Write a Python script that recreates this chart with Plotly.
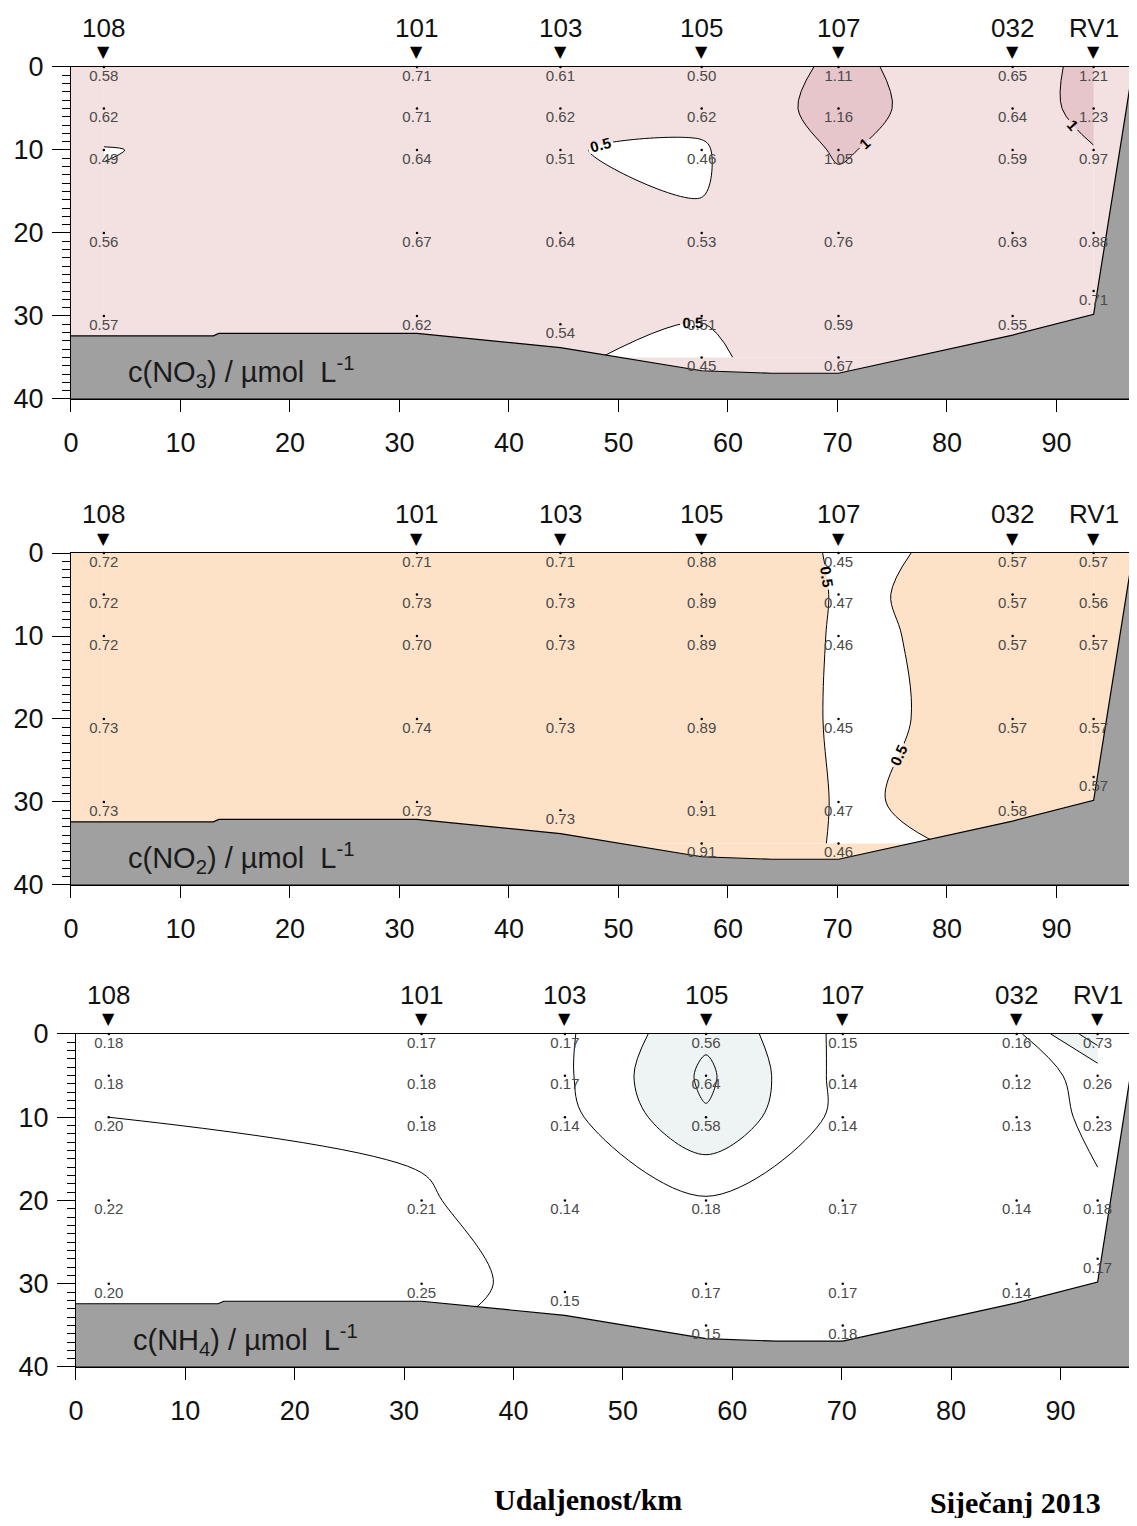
import plotly.graph_objects as go

# ---------------- data ----------------
STATIONS = ["108", "101", "103", "105", "107", "032", "RV1"]
STATION_KM = [3.0, 31.6, 44.7, 57.6, 70.1, 86.0, 93.4]

# depth (m) of every sample, per station
SAMPLE_DEPTHS = [
    [0, 5, 10, 20, 30],        # 108
    [0, 5, 10, 20, 30],        # 101
    [0, 5, 10, 20, 31],        # 103
    [0, 5, 10, 20, 30, 35],    # 105
    [0, 5, 10, 20, 30, 35],    # 107
    [0, 5, 10, 20, 30],        # 032
    [0, 5, 10, 20, 27],        # RV1
]
# nominal sampling levels used to build the contour grid
GRID_DEPTHS = [0, 5, 10, 20, 30, 35]

NO3 = [
    [0.58, 0.62, 0.49, 0.56, 0.57],
    [0.71, 0.71, 0.64, 0.67, 0.62],
    [0.61, 0.62, 0.51, 0.64, 0.54],
    [0.50, 0.62, 0.46, 0.53, 0.51, 0.45],
    [1.11, 1.16, 1.05, 0.76, 0.59, 0.67],
    [0.65, 0.64, 0.59, 0.63, 0.55],
    [1.21, 1.23, 0.97, 0.88, 0.71],
]
NO2 = [
    [0.72, 0.72, 0.72, 0.73, 0.73],
    [0.71, 0.73, 0.70, 0.74, 0.73],
    [0.71, 0.73, 0.73, 0.73, 0.73],
    [0.88, 0.89, 0.89, 0.89, 0.91, 0.91],
    [0.45, 0.47, 0.46, 0.45, 0.47, 0.46],
    [0.57, 0.57, 0.57, 0.57, 0.58],
    [0.57, 0.56, 0.57, 0.57, 0.57],
]
NH4 = [
    [0.18, 0.18, 0.20, 0.22, 0.20],
    [0.17, 0.18, 0.18, 0.21, 0.25],
    [0.17, 0.17, 0.14, 0.14, 0.15],
    [0.56, 0.64, 0.58, 0.18, 0.17, 0.15],
    [0.15, 0.14, 0.14, 0.17, 0.17, 0.18],
    [0.16, 0.12, 0.13, 0.14, 0.14],
    [0.73, 0.26, 0.23, 0.18, 0.17],
]

# sea bottom profile (distance km, depth m)
BOTTOM_KM = [0, 13.0, 13.5, 31.6, 44.7, 57.6, 64.0, 70.1, 86.0, 93.4, 97.0]
BOTTOM_DEPTH = [32.4, 32.4, 32.1, 32.1, 33.8, 36.6, 36.9, 36.9, 32.3, 29.8, 0.0]

X_TICKS = [0, 10, 20, 30, 40, 50, 60, 70, 80, 90]
Y_TICKS = [0, 10, 20, 30, 40]
X_MAX = 97.0
Y_MAX = 40.0

PANEL_TITLES = [
    "c(NO<sub>3</sub>)\u00a0/\u00a0µmol\u00a0\u00a0L<sup>-1</sup>",
    "c(NO<sub>2</sub>)\u00a0/\u00a0µmol\u00a0\u00a0L<sup>-1</sup>",
    "c(NH<sub>4</sub>)\u00a0/\u00a0µmol\u00a0\u00a0L<sup>-1</sup>",
]
X_LABEL = "Udaljenost/km"
DATE_LABEL = "Siječanj 2013"

# ---------------- styling ----------------
FONT = "Liberation Sans, Arial, sans-serif"
SERIF = "Liberation Serif, Times New Roman, serif"
GRAY = "#a0a0a0"
panels = [
    dict(values=NO3, start=0.5, end=1.0, size=0.5,
         cs=[[0, "#ffffff"], [0.5, "#f3e1e1"], [1, "#e6c6cb"]],
         bg="#f3e1e1", labels=True,
         xdom=[0.0558, 0.9965], ydom=[0.74106, 0.96093]),
    dict(values=NO2, start=0.5, end=1.0, size=0.5,
         cs=[[0, "#ffffff"], [0.5, "#fde2c8"], [1, "#fde2c8"]],
         bg="#fde2c8", labels=True,
         xdom=[0.0558, 0.9965], ydom=[0.41921, 0.63907]),
    dict(values=NH4, start=0.2, end=0.6, size=0.2,
         cs=[[0, "#ffffff"], [0.45, "#ffffff"], [0.55, "#eef3f3"], [1, "#eef3f3"]],
         bg="#ffffff", labels=False,
         xdom=[0.0602, 1.0], ydom=[0.10000, 0.32053]),
]


def nearest_level(d):
    return min(range(len(GRID_DEPTHS)), key=lambda k: abs(GRID_DEPTHS[k] - d))


fig = go.Figure()
layout = {}
for i, p in enumerate(panels):
    n = "" if i == 0 else str(i + 1)
    xa, ya = "x" + n, "y" + n

    # grid for contouring (rows = nominal levels, cols = stations)
    grid = [[None] * len(STATION_KM) for _ in GRID_DEPTHS]
    xs, ys, zs = [], [], []
    for j, (km, dl, vl) in enumerate(zip(STATION_KM, SAMPLE_DEPTHS, p["values"])):
        for d, v in zip(dl, vl):
            grid[nearest_level(d)][j] = v
            xs.append(km)
            ys.append(d)
            zs.append(v)

    fig.add_trace(go.Contour(
        x=STATION_KM, y=GRID_DEPTHS, z=grid, xaxis=xa, yaxis=ya,
        connectgaps=True, showscale=False, colorscale=p["cs"],
        contours=dict(start=p["start"], end=p["end"], size=p["size"],
                      coloring="fill", showlabels=p["labels"],
                      labelfont=dict(size=15, color="black", family=FONT, weight="bold")),
        line=dict(color="black", width=1, smoothing=1.0),
        hoverinfo="skip",
    ))
    # sea bottom
    fig.add_trace(go.Scatter(
        x=BOTTOM_KM + [X_MAX, 0], y=BOTTOM_DEPTH + [Y_MAX, Y_MAX],
        xaxis=xa, yaxis=ya, mode="lines", fill="toself", fillcolor=GRAY,
        line=dict(color="black", width=1.2), hoverinfo="skip",
    ))
    # sample points with values
    fig.add_trace(go.Scatter(
        x=xs, y=ys, xaxis=xa, yaxis=ya, mode="markers+text",
        text=[f"{z:.2f}" for z in zs], textposition="bottom center",
        marker=dict(size=2.5, color="black"),
        textfont=dict(size=15, color="#4a4a4a", family=FONT),
        cliponaxis=False, hoverinfo="skip",
    ))
    # station markers and names above the section
    for km, name in zip(STATION_KM, STATIONS):
        fig.add_annotation(x=km, xref=xa, y=1, yref=ya + " domain", text="▼",
                           showarrow=False, xanchor="center", yanchor="middle", yshift=15,
                           font=dict(size=16, color="black", family="DejaVu Sans"))
        fig.add_annotation(x=km, xref=xa, y=1, yref=ya + " domain", text=name,
                           showarrow=False, xanchor="center", yanchor="middle", yshift=39,
                           font=dict(size=26, color="#111111", family=FONT))
    fig.add_annotation(
        x=5.0, y=36.7, xref=xa, yref=ya, text=PANEL_TITLES[i], showarrow=False,
        xanchor="left", yanchor="middle",
        font=dict(size=29, color="#1a1a1a", family=FONT),
    )
    # background of the section
    fig.add_shape(type="rect", xref=xa + " domain", yref=ya + " domain",
                  x0=0, x1=1, y0=0, y1=1, fillcolor=p["bg"], line_width=0, layer="below")

    layout["xaxis" + n] = dict(
        domain=p["xdom"], anchor=ya, range=[0, X_MAX], tickvals=X_TICKS,
        ticks="outside", ticklen=12, tickwidth=1, tickcolor="black",
        showline=True, linecolor="black", linewidth=1, mirror=True,
        showgrid=False, zeroline=False, automargin=False, ticklabelstandoff=8,
        tickfont=dict(size=27, color="#111111", family=FONT),
    )
    layout["yaxis" + n] = dict(
        domain=p["ydom"], anchor=xa, range=[Y_MAX, 0], tickvals=Y_TICKS,
        ticks="outside", ticklen=18, tickwidth=1, tickcolor="black",
        minor=dict(dtick=1, ticks="outside", ticklen=8, tickcolor="black", tickwidth=1),
        showline=True, linecolor="black", linewidth=1, mirror=True,
        showgrid=False, zeroline=False, ticklabelstandoff=3, automargin=False,
        tickfont=dict(size=27, color="#111111", family=FONT),
    )

fig.add_annotation(x=0.5137, y=0.012, xref="paper", yref="paper", text=X_LABEL,
                   showarrow=False, xanchor="center", yanchor="middle",
                   font=dict(size=30, color="black", family=SERIF, weight="bold"))
fig.add_annotation(x=0.892, y=0.010, xref="paper", yref="paper", text=DATE_LABEL,
                   showarrow=False, xanchor="center", yanchor="middle",
                   font=dict(size=30, color="black", family=SERIF, weight="bold"))

fig.update_layout(
    width=1129, height=1510,
    margin=dict(l=0, r=0, t=0, b=0, autoexpand=False),
    paper_bgcolor="white", plot_bgcolor="white", showlegend=False,
    **layout,
)

fig.write_html("out.html")
